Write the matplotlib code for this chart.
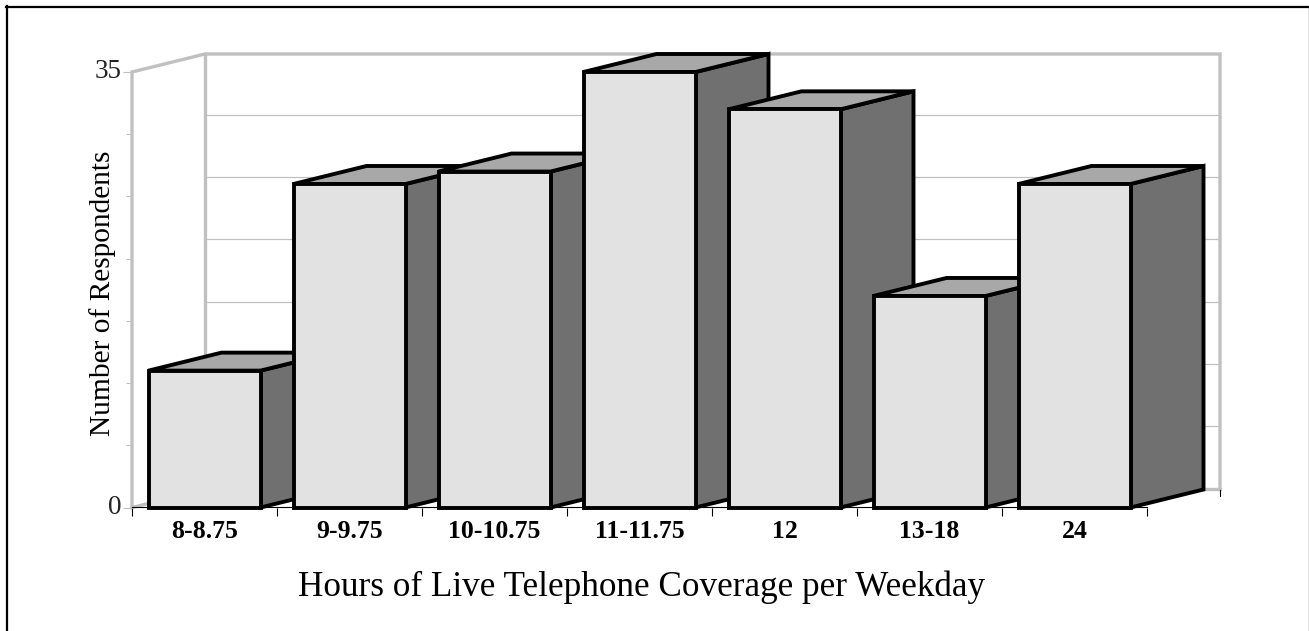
import matplotlib
matplotlib.use("Agg")
import matplotlib.pyplot as plt
from matplotlib.lines import Line2D
from matplotlib.transforms import ScaledTranslation

categories = ["8-8.75", "9-9.75", "10-10.75", "11-11.75", "12", "13-18", "24"]
respondents = [11, 26, 27, 35, 32, 17, 26]
y_gridlines = [5, 10, 15, 20, 25, 30]
y_ticks = [0, 5, 10, 15, 20, 25, 30, 35]
y_tick_labels = ["0", "", "", "", "", "", "", "35"]

W, H = 1309, 631
GREY = "#c0c0c0"
FRONT = "#e2e2e2"
TOP = "#a8a8a8"
SIDE = "#707070"

plt.rcParams["font.family"] = ["Liberation Serif", "DejaVu Serif"]

fig = plt.figure(figsize=(W / 100, H / 100), dpi=100)
ax = fig.add_axes([132 / W, (H - 507.5) / H, 1015 / W, 435.5 / H])
ax.set_xlim(-0.5, 6.5)
ax.set_ylim(0, 35)
for s in ax.spines.values():
    s.set_visible(False)
ax.patch.set_visible(False)

# depth of the fake 3d box, in data units
dx = 73 / 145
dy = 18 / (435.5 / 35)
bar_w = 112 / 145
x0, x1 = -0.5, 6.5

# back wall and grid
for v in y_gridlines:
    ax.plot([x0 + dx, x1 + dx], [v + dy + 0.1, v + dy + 0.1], color=GREY, lw=0.9, clip_on=False, zorder=1)
ax.plot([x0, x0, x0 + dx, x1 + dx, x1 + dx],
        [0, 35, 35 + dy, 35 + dy, dy],
        color=GREY, lw=2.4, clip_on=False, zorder=1, solid_joinstyle="miter")
ax.plot([x0 + dx, x0 + dx], [dy, 35 + dy], color=GREY, lw=2.4, clip_on=False, zorder=1)
ax.plot([x0, x0 + dx, x1 + dx], [0, dy, dy], color=GREY, lw=2.4, clip_on=False, zorder=1)

# axis line
ax.plot([x0, x1], [0.08, 0.08], color="black", lw=0.8, clip_on=False, zorder=2)

# bars, left to right so each one covers the previous side face
for i, v in enumerate(respondents):
    l = i - bar_w / 2
    r = i + bar_w / 2
    z = 3 + i
    ax.fill([r, r + dx, r + dx, r], [0, dy, v + dy, v], facecolor=SIDE, edgecolor="black",
            lw=2.8, clip_on=False, zorder=z, joinstyle="miter")
    ax.fill([l, l + dx, r + dx, r], [v, v + dy, v + dy, v], facecolor=TOP, edgecolor="black",
            lw=2.8, clip_on=False, zorder=z, joinstyle="miter")
    ax.bar(i, v, width=bar_w, color=FRONT, edgecolor="black", linewidth=2.8, clip_on=False, zorder=z)

ax.set_xticks([x0 + k for k in range(8)], minor=True)
ax.tick_params(axis="x", which="minor", length=5.5, width=0.8, color="black", bottom=True)
ax.set_xticks(range(len(categories)))
ax.set_xticklabels(categories, fontsize=18.5, fontweight="bold", color="black")
ax.tick_params(axis="x", which="major", length=0, pad=9)

ax.set_yticks(y_ticks)
ax.set_yticklabels(y_tick_labels, fontsize=19.5, color="#222222")
ax.tick_params(axis="y", length=4.5, width=0.8, color=GREY, pad=3)
shift = ScaledTranslation(0, 3 / 100, fig.dpi_scale_trans)
for t, lab in zip(ax.yaxis.get_major_ticks(), y_tick_labels):
    if lab:
        t.tick1line.set_markersize(6.5)
        t.label1.set_transform(t.label1.get_transform() + shift)

# tick at the far end of the floor
ax.plot([x1 + dx, x1 + dx], [dy, dy - 0.5], color="black", lw=0.8, clip_on=False, zorder=2)

ax.set_ylabel("Number of Respondents", fontsize=21.2, labelpad=0)
ax.yaxis.set_label_coords((103 - 132) / 1015, (507.5 - 293) / 435.5)
ax.set_xlabel("Hours of Live Telephone Coverage per Weekday", fontsize=25.3)
ax.xaxis.set_label_coords((641 - 132) / 1015, (507.5 - 587) / 435.5)
ax.xaxis.label.set_va("center")
ax.yaxis.label.set_va("center")

# outer frame
fig.add_artist(Line2D([7 / W, 7 / W], [0, 1 - 6 / H], color="black", lw=1.6, transform=fig.transFigure))
fig.add_artist(Line2D([6 / W, 1308 / W], [1 - 7 / H, 1 - 7 / H], color="black", lw=1.6, transform=fig.transFigure))
fig.add_artist(Line2D([1308.5 / W, 1308.5 / W], [0, 1 - 7 / H], color="#777777", lw=1.0, transform=fig.transFigure))

fig.savefig("out.png", dpi=100)
